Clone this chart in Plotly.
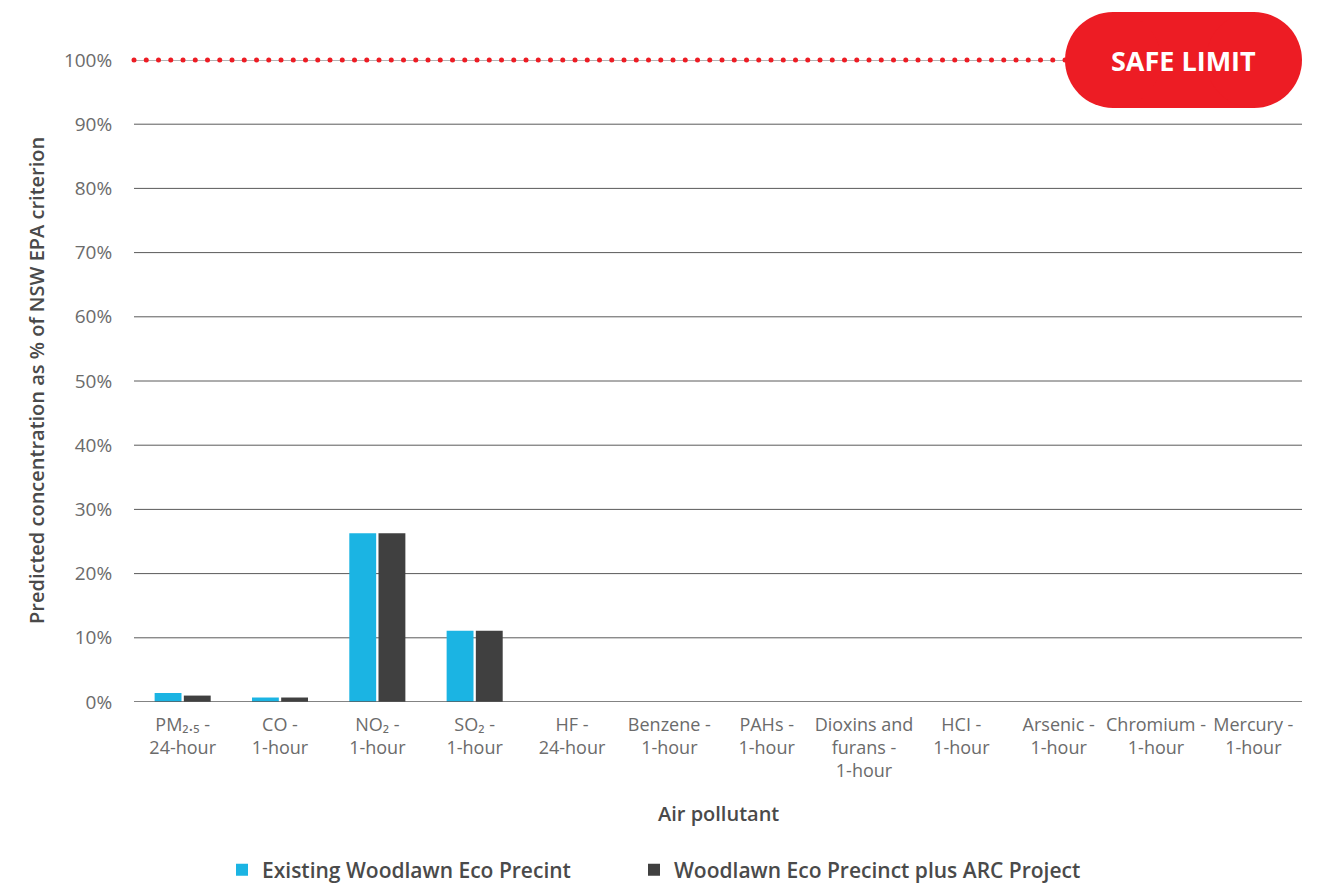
import numpy as np
import plotly.graph_objects as go

# Pollutant categories (tick labels) and predicted concentrations (% of criterion)
categories = [
    "PM₂.₅ -<br>24-hour",
    "CO -<br>1-hour",
    "NO₂ -<br>1-hour",
    "SO₂ -<br>1-hour",
    "HF -<br>24-hour",
    "Benzene -<br>1-hour",
    "PAHs -<br>1-hour",
    "Dioxins and<br>furans -<br>1-hour",
    "HCI -<br>1-hour",
    "Arsenic -<br>1-hour",
    "Chromium -<br>1-hour",
    "Mercury -<br>1-hour",
]
existing = [1.4, 0.7, 26.3, 11.1, 0.0, 0.0, 0.0, 0.0, 0.0, 0.0, 0.0, 0.0]
with_arc = [1.0, 0.7, 26.3, 11.1, 0.0, 0.0, 0.0, 0.0, 0.0, 0.0, 0.0, 0.0]
series_names = ["Existing Woodlawn Eco Precint", "Woodlawn Eco Precinct plus ARC Project"]
y_ticks = [0, 10, 20, 30, 40, 50, 60, 70, 80, 90, 100]
safe_limit = 100

BLUE = "#1BB4E3"
DARK = "#404040"
RED = "#ED1C24"
GRID = "#5a5a5a"
TXT = "#6b6b6b"
TITLE = "#4a4a4a"
FONT = "Open Sans"

W, H = 1336, 883
ML, MR, MT, MB = 134, 34, 60, 181
PW, PH = W - ML - MR, H - MT - MB


def px_x(x):
    return (x - ML) / PW


def px_y(y):
    return (H - MB - y) / PH


fig = go.Figure()
fig.add_trace(go.Bar(x=categories, y=existing, name=series_names[0], legend="legend",
                     marker=dict(color=BLUE, line=dict(width=0))))
fig.add_trace(go.Bar(x=categories, y=with_arc, name=series_names[1], legend="legend2",
                     marker=dict(color=DARK, line=dict(width=0))))

# Dotted red "safe limit" line at 100%
line_end = px_x(1065)
n_dots = 77
fig.add_trace(go.Scatter(
    x=np.linspace(0, line_end, n_dots), y=[safe_limit] * n_dots,
    xaxis="x2", mode="markers+lines",
    line=dict(color="#9a9a9a", width=1.5),
    marker=dict(color=RED, size=5), showlegend=False, hoverinfo="skip",
    cliponaxis=False,
))

shapes = []
# gridlines 10%..90%
for t in y_ticks[1:-1]:
    shapes.append(dict(type="line", xref="paper", yref="y", x0=0, x1=1, y0=t, y1=t,
                       line=dict(color=GRID, width=1), layer="below"))
# baseline
shapes.append(dict(type="line", xref="paper", yref="y", x0=0, x1=1, y0=0, y1=0,
                   line=dict(color=GRID, width=1.5), layer="above"))

# pill-shaped SAFE LIMIT badge
left, right, top, bottom = 1065, 1302, 12, 108
r = (bottom - top) / 2
shapes.append(dict(type="rect", xref="paper", yref="paper",
                   x0=px_x(left + r), x1=px_x(right - r), y0=px_y(bottom), y1=px_y(top),
                   fillcolor=RED, line=dict(width=0), layer="above"))
for cx in (left + r, right - r):
    shapes.append(dict(type="circle", xref="paper", yref="paper",
                       x0=px_x(cx - r), x1=px_x(cx + r), y0=px_y(bottom), y1=px_y(top),
                       fillcolor=RED, line=dict(width=0), layer="above"))

annotations = [
    dict(text="SAFE LIMIT", xref="paper", yref="paper",
         x=px_x((left + right) / 2), y=px_y((top + bottom) / 2),
         showarrow=False, font=dict(family=FONT, size=27, color="white", weight=700),
         xanchor="center", yanchor="middle"),
    dict(text="Air pollutant", xref="paper", yref="paper",
         x=px_x(718), y=px_y(813), showarrow=False,
         font=dict(family=FONT, size=20, color=TITLE, weight=600),
         xanchor="center", yanchor="middle"),
    dict(text="Predicted concentration as % of NSW EPA criterion", xref="paper", yref="paper",
         x=px_x(36), y=px_y(381), showarrow=False, textangle=-90,
         font=dict(family=FONT, size=20, color=TITLE, weight=600),
         xanchor="center", yanchor="middle"),
]

legend_style = dict(
    orientation="h", xanchor="left", yanchor="middle", y=px_y(870),
    font=dict(size=21, color=TITLE, weight=600),
    itemsizing="constant", bgcolor="rgba(0,0,0,0)",
)

fig.update_layout(
    width=W, height=H,
    margin=dict(l=ML, r=MR, t=MT, b=MB, autoexpand=False),
    paper_bgcolor="white", plot_bgcolor="white",
    barmode="group", bargap=0.4, bargroupgap=0.08,
    font=dict(family=FONT, color=TXT),
    shapes=shapes, annotations=annotations,
    xaxis=dict(
        showgrid=False, showline=False, zeroline=False,
        ticks="outside", ticklen=6, tickcolor="rgba(0,0,0,0)",
        tickfont=dict(size=18, color=TXT), tickangle=0,
        automargin=False, fixedrange=True,
    ),
    xaxis2=dict(overlaying="x", range=[0, 1], visible=False, fixedrange=True),
    yaxis=dict(
        range=[0, safe_limit], tickvals=y_ticks,
        ticktext=[f"{t}%" for t in y_ticks],
        showgrid=False, zeroline=False, showline=False,
        ticks="outside", ticklen=17, tickcolor="rgba(0,0,0,0)",
        tickfont=dict(size=19, color=TXT),
        automargin=False, fixedrange=True,
    ),
    legend=dict(x=px_x(222), **legend_style),
    legend2=dict(x=px_x(634), **legend_style),
)

fig.write_html("out.html")
